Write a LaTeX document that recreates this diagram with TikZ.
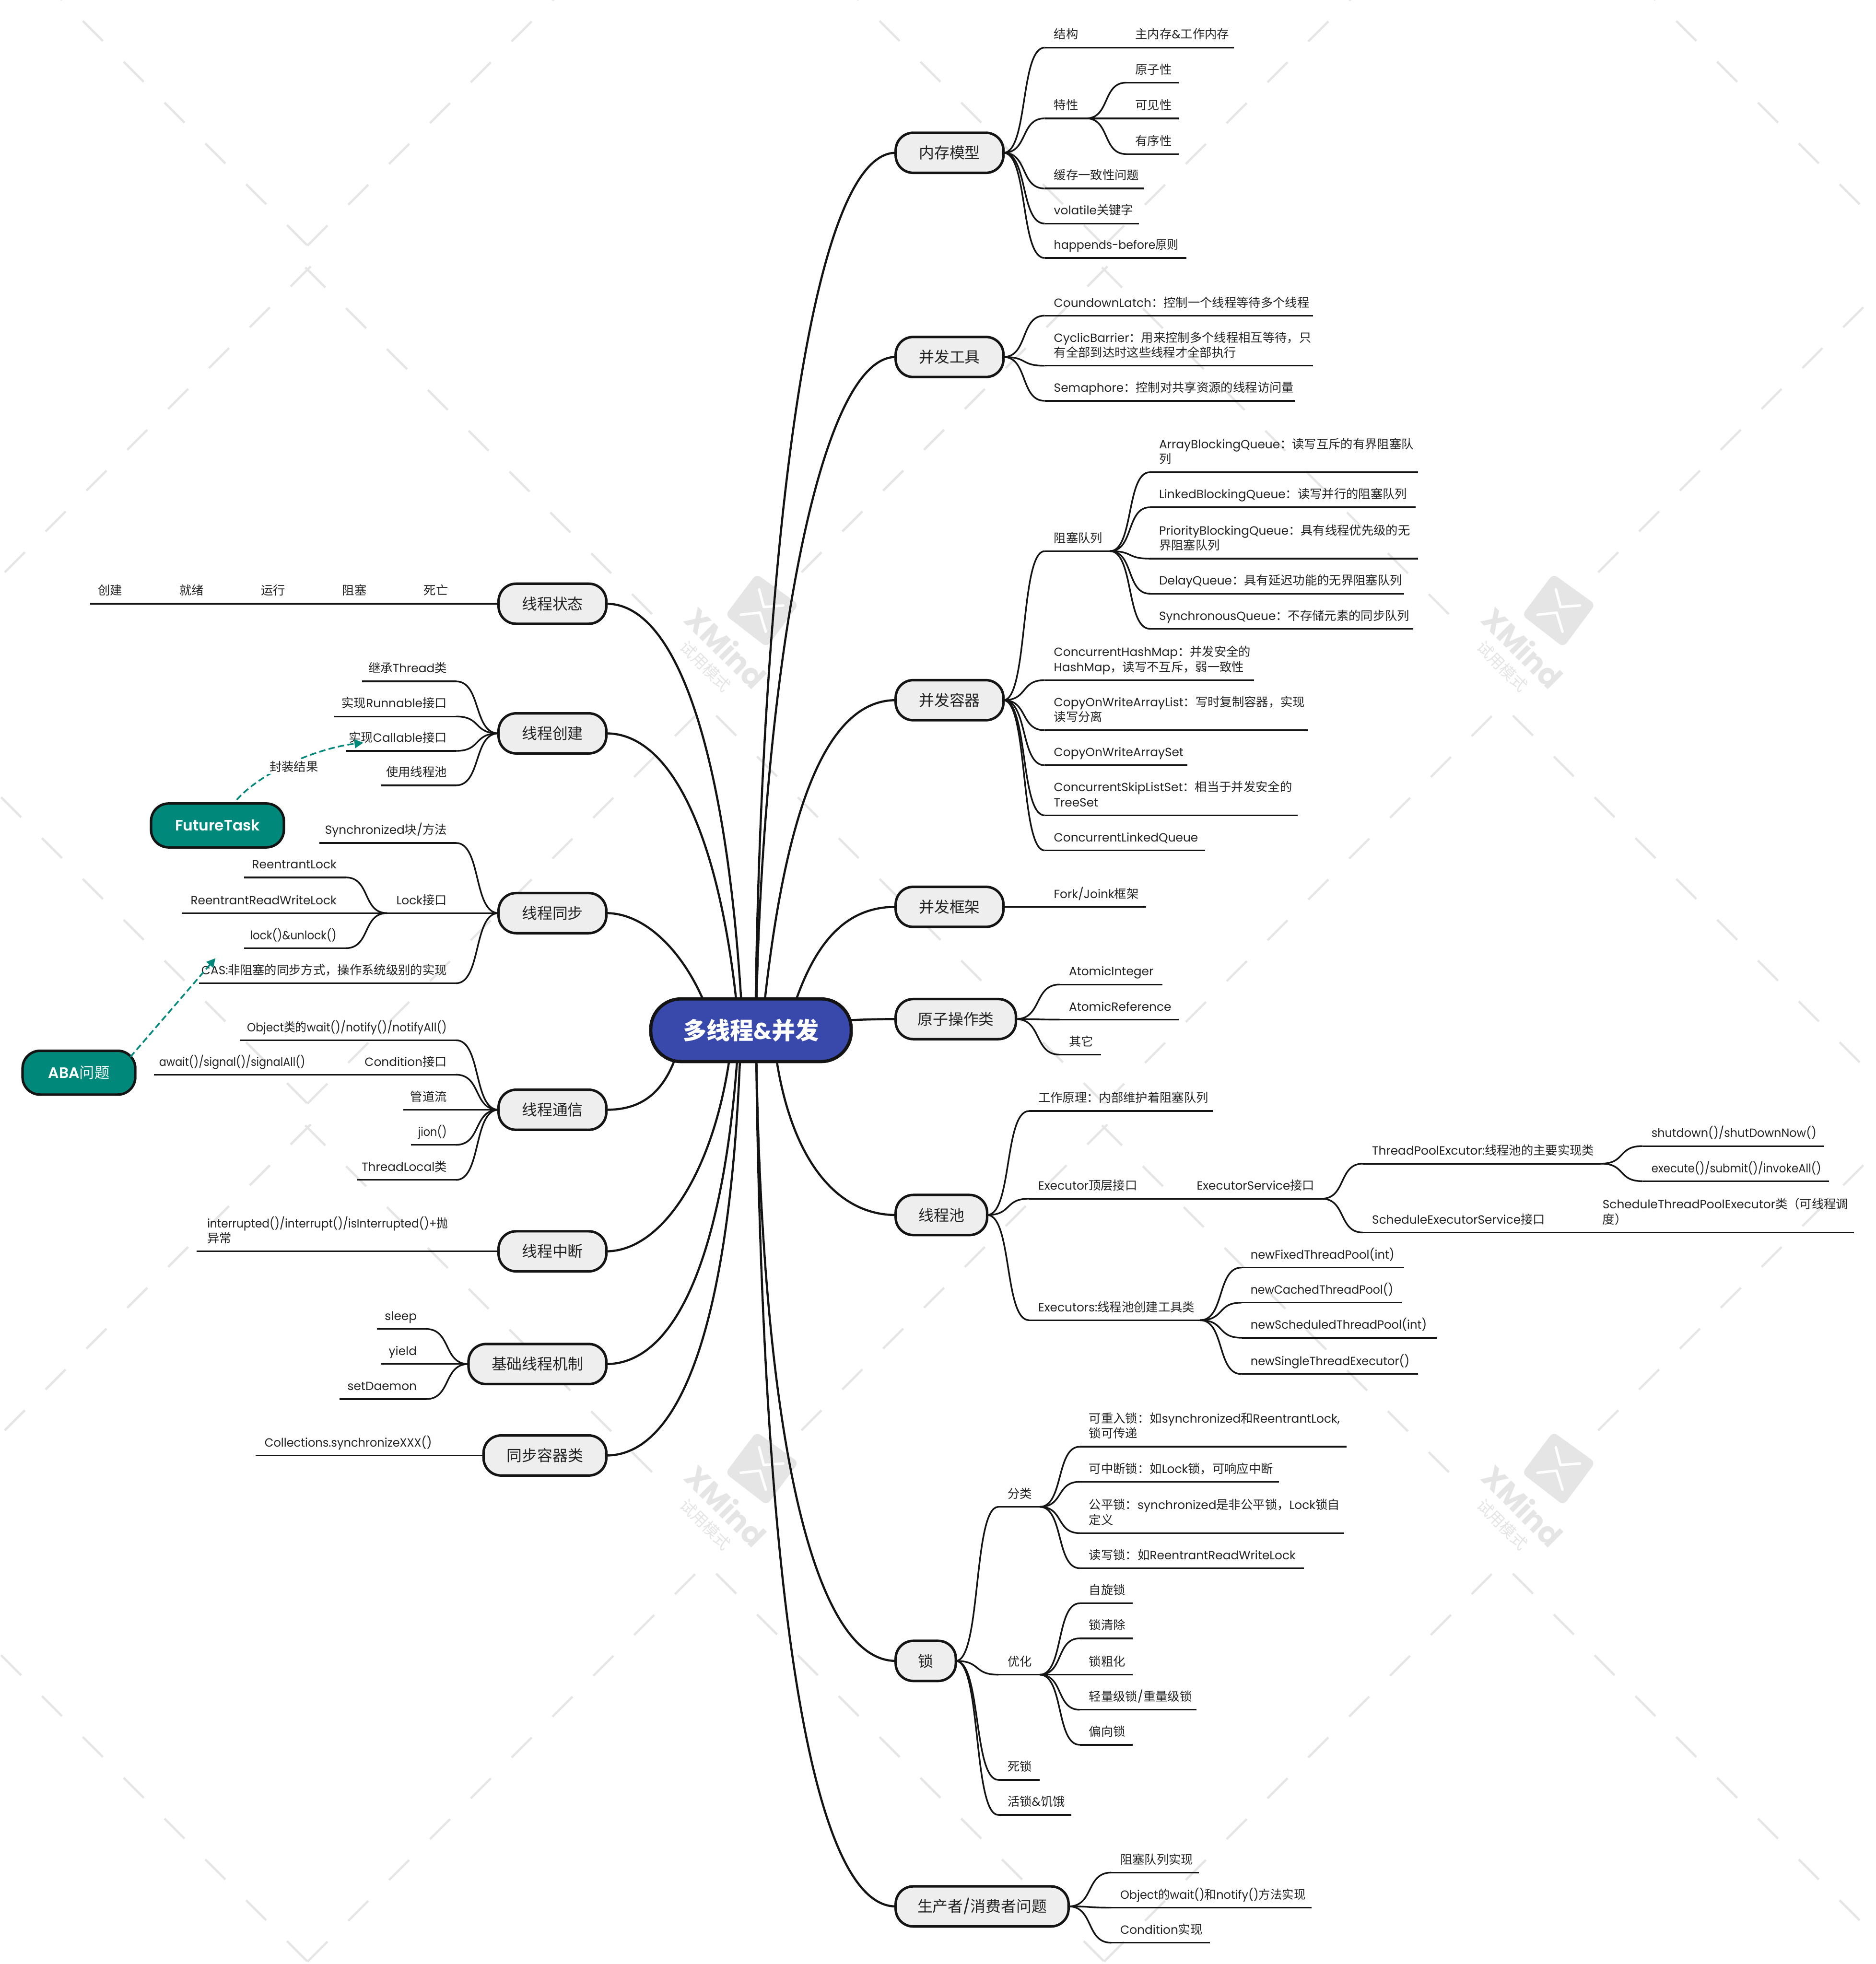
\documentclass[tikz,border=0pt]{standalone}
\usepackage{fontspec}
\usetikzlibrary{calc,arrows.meta}
\setmainfont{Poppins}[Scale=0.98]
\newfontfamily\cjkf{Noto Sans CJK SC}
\newfontfamily\pmed{Poppins SemiBold}
\let\latinf\rmfamily
\newXeTeXintercharclass\cjkcl
\makeatletter
\count@="4E00 \loop \XeTeXcharclass\count@=\cjkcl \ifnum\count@<"9FFF \advance\count@ 1 \repeat
\count@="FF00 \loop \XeTeXcharclass\count@=\cjkcl \ifnum\count@<"FFEF \advance\count@ 1 \repeat
\count@="3000 \loop \XeTeXcharclass\count@=\cjkcl \ifnum\count@<"303F \advance\count@ 1 \repeat
\makeatother
\XeTeXinterchartokenstate=1
\XeTeXinterchartoks 0 \cjkcl = {\cjkf}
\XeTeXinterchartoks \cjkcl 0 = {\latinf}
\XeTeXinterchartoks 4095 \cjkcl = {\cjkf}
\XeTeXinterchartoks \cjkcl 4095 = {\latinf}
\XeTeXinterchartoks 4095 0 = {\latinf}
\definecolor{ink}{HTML}{141414}
\definecolor{txt}{HTML}{222222}
\definecolor{rootblue}{HTML}{3949AB}
\definecolor{teal0}{HTML}{00897B}
\definecolor{topicgray}{HTML}{EEEEEE}
\definecolor{wm}{HTML}{E5E5E5}
\pgfdeclarelayer{wmlayer}
\pgfdeclarelayer{lines}
\pgfsetlayers{wmlayer,lines,main}
\tikzset{
 topic/.style={draw=ink,fill=topicgray,line width=2pt,rectangle,rounded corners=14pt,minimum height=32pt,inner sep=0pt,outer sep=0pt,text=txt,font=\fontsize{12.2}{15}\selectfont},
 rootnode/.style={draw=ink,fill=rootblue,line width=2.6pt,rectangle,rounded corners=24pt,minimum width=160pt,minimum height=50pt,inner sep=0pt,outer sep=0pt,text=white,font=\fontsize{18.8}{22}\selectfont\bfseries},
 floatnode/.style={draw=ink,fill=teal0,line width=2pt,rectangle,rounded corners=14pt,minimum height=35pt,inner sep=0pt,outer sep=0pt,text=white,font=\fontsize{12}{15}\selectfont\let\latinf\pmed\pmed},
 leaftext/.style={inner xsep=7.3pt,inner ysep=4pt,outer sep=0pt,text depth=3pt,align=left,text=txt,font=\fontsize{9.7}{12}\selectfont},
 ln/.style={draw=ink,line width=1.3pt},
 mainln/.style={draw=ink,line width=1.7pt},
 relln/.style={draw=teal0,line width=1.3pt,dash pattern=on 5pt off 2.7pt,-{Triangle[length=7pt,width=7pt,fill=teal0]}},
 wmln/.style={draw=wm,line width=1.7pt},
}
\newcommand\sx[2]{\scalebox{#1}[1]{#2}}
\newcommand\lR[5]{\coordinate (#1-a) at (#2,#4);\coordinate (#1-b) at (#3,#4);\node[leaftext,anchor=south west] (#1) at (#1-a) {#5};\begin{pgfonlayer}{lines}\draw[ln] (#1-a) -- (#1-b);\end{pgfonlayer}}
\newcommand\lL[5]{\coordinate (#1-a) at (#2,#4);\coordinate (#1-b) at (#3,#4);\node[leaftext,anchor=south east] (#1) at (#1-b) {#5};\begin{pgfonlayer}{lines}\draw[ln] (#1-a) -- (#1-b);\end{pgfonlayer}}
\newcommand\cn[2]{\begin{pgfonlayer}{lines}\draw[ln] let \p1=(#1),\p2=(#2),\n1={0.6*(\x2-\x1)},\n2={-0.6*(\x2-\x1)} in (#1) .. controls +(\n1,0) and +(\n2,0) .. (#2);\end{pgfonlayer}}
\newcommand\mc[4]{\begin{pgfonlayer}{lines}\draw[mainln] ([xshift=#2pt]root.center) .. controls (#3) and (#4) .. (#1);\end{pgfonlayer}}
\newcommand\wmlogo[2]{%
 \begin{scope}[shift={(#1,#2)}]
  \fill[wm,rounded corners=4pt] (-4.4,-29.3) -- (29.3,-5) -- (3.9,29.2) -- (-29.2,3.6) -- cycle;
  \draw[white,line width=2pt,line cap=round,line join=round] (-2.2,-17) -- (1.5,-2.9) -- (17,-4.1);
  \draw[white,line width=2pt,line cap=round,line join=round] (-16.9,3.3) -- (-1.6,1.6) -- (3.1,16.8);
  \node[text=wm,rotate=-45,inner sep=0pt,font=\fontsize{24.5}{27}\selectfont\bfseries] (wmx#1#2) at (-28.5,29.5) {XMind};
  \node[text=wm,rotate=-45,inner sep=0pt,font=\fontsize{12.6}{15}\selectfont] (wmt#1#2) at (-45,44.5) {试用模式};
 \end{scope}}
\begin{document}
\begin{tikzpicture}[x=1pt,y=-1pt]
\useasboundingbox (0,0) rectangle (1497.5,1568);
\begin{pgfonlayer}{wmlayer}
\fill[white] (0,0) rectangle (1497.5,1568);
\begin{scope}
\clip (0,0) rectangle (1497.5,1568);
\foreach \m in {-2,-1,0,1}{\foreach \n in {-1,0,1}{
 \foreach \i in {-1,...,8}{\draw[wmln] ({1240.3+32.6*\i+636*\m},{603.9+32.6*\i+685*\n}) -- ++(16,16);}
 \foreach \i in {0,...,9}{\draw[wmln] ({1190.8-32.6*\i+636*\m},{571.7+32.6*\i+685*\n}) -- ++(-16,16);}
 \foreach \i in {0,...,7}{\draw[wmln] ({1291.8+32.6*\i+636*\m},{440.9-32.6*\i+685*\n}) -- ++(-16,16);}
 \foreach \i in {0,...,8}{\draw[wmln] ({1140.5-32.6*\i+636*\m},{474.3-32.6*\i+685*\n}) -- ++(16,16);}
}}
\wmlogo{608.2}{487.5}
\wmlogo{1244.2}{487.5}
\wmlogo{608.2}{1172.5}
\wmlogo{1244.2}{1172.5}
\end{scope}
\end{pgfonlayer}

\node[rootnode] (root) at (599.5,822.5) {多线程\&并发};
% right topics
\node[topic,minimum width=86pt] (mem) at (758,122) {内存模型};
\node[topic,minimum width=86pt] (tool) at (758,285) {并发工具};
\node[topic,minimum width=86pt] (cont) at (758,559) {并发容器};
\node[topic,minimum width=86pt] (fw) at (758,724) {并发框架};
\node[topic,minimum width=96pt] (atom) at (763,813.6) {原子操作类};
\node[topic,minimum width=73pt] (pool) at (751.5,970) {线程池};
\node[topic,minimum width=48pt] (lock) at (739,1326) {锁};
\node[topic,minimum width=138pt] (prod) at (784,1522) {生产者/消费者问题};
% left topics
\node[topic,minimum width=86pt] (st) at (441,482) {线程状态};
\node[topic,minimum width=86pt] (cr) at (441,585.5) {线程创建};
\node[topic,minimum width=86pt] (sy) at (441,729) {线程同步};
\node[topic,minimum width=86pt] (co) at (441,886) {线程通信};
\node[topic,minimum width=86pt] (it) at (441,999) {线程中断};
\node[topic,minimum width=110pt] (ba) at (429,1089) {基础线程机制};
\node[topic,minimum width=98pt] (sc) at (435,1162) {同步容器类};
\node[floatnode,minimum width=106pt] (ft) at (173.6,659) {FutureTask};
\node[floatnode,minimum width=90pt] (aba) at (63,856.4) {ABA问题};

% root connectors
\mc{mem.west}{3.5}{606,500}{640,122}
\mc{tool.west}{4}{607,560}{650,285}
\mc{cont.west}{8.5}{622,680}{650,559}
\mc{fw.west}{28.5}{645,760}{670,724}
\mc{atom.west}{0}{640,816}{680,813.6}
\mc{pool.west}{17.5}{626,920}{665,970}
\mc{lock.west}{4}{607,1150}{650,1326}
\mc{prod.west}{4}{607,1220}{640,1522}
\mc{st.east}{-6.5}{583,620}{545,482}
\mc{cr.east}{-9.5}{578,680}{540,585.5}
\mc{sy.east}{-29.5}{555,770}{520,729}
\mc{co.east}{-54.5}{535,875}{510,886}
\mc{it.east}{-14.5}{575,930}{530,999}
\mc{ba.east}{-9.5}{580,1000}{540,1089}
\mc{sc.east}{-8}{585,1050}{545,1162}

% 内存模型
\lR{m1}{834}{867}{38}{结构}\cn{mem.east}{m1-a}
\lR{m11}{899}{985}{38}{主内存\&工作内存}\cn{m1-b}{m11-a}
\lR{m2}{834}{867}{94.5}{特性}\cn{mem.east}{m2-a}
\lR{m21}{899}{941}{66}{原子性}\cn{m2-b}{m21-a}
\lR{m22}{899}{941}{94.5}{可见性}\cn{m2-b}{m22-a}
\lR{m23}{899}{941}{123}{有序性}\cn{m2-b}{m23-a}
\lR{m3}{834}{913}{150.5}{缓存一致性问题}\cn{mem.east}{m3-a}
\lR{m4}{834}{909}{178.5}{volatile关键字}\cn{mem.east}{m4-a}
\lR{m5}{834}{947}{206}{\sx{.955}{happends-before原则}}\cn{mem.east}{m5-a}
% 并发工具
\lR{t1}{834}{1048}{252}{CoundownLatch：控制一个线程等待多个线程}\cn{tool.east}{t1-a}
\lR{t2}{834}{1048}{292}{CyclicBarrier：用来控制多个线程相互等待，只\\有全部到达时这些线程才全部执行}\cn{tool.east}{t2-a}
\lR{t3}{834}{1034}{320}{Semaphore：控制对共享资源的线程访问量}\cn{tool.east}{t3-a}
% 并发容器
\lR{c1}{834}{886}{440}{阻塞队列}\cn{cont.east}{c1-a}
\lR{c11}{918}{1132}{377}{ArrayBlockingQueue：读写互斥的有界阻塞队\\列}\cn{c1-b}{c11-a}
\lR{c12}{918}{1130}{405}{LinkedBlockingQueue：读写并行的阻塞队列}\cn{c1-b}{c12-a}
\lR{c13}{918}{1132}{446}{PriorityBlockingQueue：具有线程优先级的无\\界阻塞队列}\cn{c1-b}{c13-a}
\lR{c14}{918}{1121}{474}{DelayQueue：具有延迟功能的无界阻塞队列}\cn{c1-b}{c14-a}
\lR{c15}{918}{1128}{502}{SynchronousQueue：不存储元素的同步队列}\cn{c1-b}{c15-a}
\lR{c2}{834}{1001}{543}{ConcurrentHashMap：并发安全的\\HashMap，读写不互斥，弱一致性}\cn{cont.east}{c2-a}
\lR{c3}{834}{1044}{583}{CopyOnWriteArrayList：写时复制容器，实现\\读写分离}\cn{cont.east}{c3-a}
\lR{c4}{834}{948}{611}{CopyOnWriteArraySet}\cn{cont.east}{c4-a}
\lR{c5}{834}{1036}{651}{ConcurrentSkipListSet：相当于并发安全的\\TreeSet}\cn{cont.east}{c5-a}
\lR{c6}{834}{962}{679}{ConcurrentLinkedQueue}\cn{cont.east}{c6-a}
% 并发框架
\lR{f1}{834}{915}{724}{Fork/Joink框架}\cn{fw.east}{f1-a}
% 原子操作类
\lR{a1}{846}{928}{786}{AtomicInteger}\cn{atom.east}{a1-a}
\lR{a2}{846}{941}{814}{AtomicReference}\cn{atom.east}{a2-a}
\lR{a3}{846}{879}{842}{其它}\cn{atom.east}{a3-a}
% 线程池
\lR{p1}{821.5}{968}{887}{工作原理：内部维护着阻塞队列}\cn{pool.east}{p1-a}
\lR{p2}{821.5}{915}{957}{Executor顶层接口}\cn{pool.east}{p2-a}
\lR{p21}{948}{1055}{957}{ExecutorService接口}\cn{p2-b}{p21-a}
\lR{p211}{1088}{1278}{929}{ThreadPoolExcutor:线程池的主要实现类}\cn{p21-b}{p211-a}
\lR{p2111}{1311}{1456}{915}{\sx{.965}{shutdown()/shutDownNow()}}\cn{p211-b}{p2111-a}
\lR{p2112}{1311}{1460}{943}{\sx{.92}{execute()/submit()/invokeAll()}}\cn{p211-b}{p2112-a}
\lR{p212}{1088}{1239}{984}{ScheduleExecutorService接口}\cn{p21-b}{p212-a}
\lR{p2121}{1272}{1480}{984}{ScheduleThreadPoolExecutor类（可线程调\\度）}\cn{p212-b}{p2121-a}
\lR{p3}{821.5}{958}{1054}{Executors:线程池创建工具类}\cn{pool.east}{p3-a}
\lR{p31}{991}{1121}{1012}{\sx{.975}{newFixedThreadPool(int)}}\cn{p3-b}{p31-a}
\lR{p32}{991}{1119}{1040}{\sx{.95}{newCachedThreadPool()}}\cn{p3-b}{p32-a}
\lR{p33}{991}{1147}{1068}{\sx{.975}{newScheduledThreadPool(int)}}\cn{p3-b}{p33-a}
\lR{p34}{991}{1132}{1097}{\sx{.97}{newSingleThreadExecutor()}}\cn{p3-b}{p34-a}
% 锁
\lR{k1}{797}{830}{1203}{分类}\cn{lock.east}{k1-a}
\lR{k11}{862}{1075}{1155}{可重入锁：如synchronized和ReentrantLock,\\锁可传递}\cn{k1-b}{k11-a}
\lR{k12}{862}{1021}{1183}{可中断锁：如Lock锁，可响应中断}\cn{k1-b}{k12-a}
\lR{k13}{862}{1073}{1224}{公平锁：synchronized是非公平锁，Lock锁自\\定义}\cn{k1-b}{k13-a}
\lR{k14}{862}{1041}{1252}{读写锁：如ReentrantReadWriteLock}\cn{k1-b}{k14-a}
\lR{k2}{797}{830}{1337}{优化}\cn{lock.east}{k2-a}
\lR{k21}{862}{904}{1280}{自旋锁}\cn{k2-b}{k21-a}
\lR{k22}{862}{904}{1308}{锁清除}\cn{k2-b}{k22-a}
\lR{k23}{862}{904}{1337}{锁粗化}\cn{k2-b}{k23-a}
\lR{k24}{862}{955}{1365}{轻量级锁/重量级锁}\cn{k2-b}{k24-a}
\lR{k25}{862}{904}{1393}{偏向锁}\cn{k2-b}{k25-a}
\lR{k3}{797}{830}{1421}{死锁}\cn{lock.east}{k3-a}
\lR{k4}{797}{855}{1449}{活锁\&饥饿}\cn{lock.east}{k4-a}
% 生产者
\lR{q1}{887}{957}{1495}{阻塞队列实现}\cn{prod.east}{q1-a}
\lR{q2}{887}{1047}{1523}{\sx{.965}{Object的wait()和notify()方法实现}}\cn{prod.east}{q2-a}
\lR{q3}{887}{966}{1551}{Condition实现}\cn{prod.east}{q3-a}
% 线程状态
\lL{s1}{332}{365}{482}{死亡}\cn{st.west}{s1-b}
\lL{s2}{267}{300}{482}{阻塞}\cn{s1-a}{s2-b}
\lL{s3}{202}{235}{482}{运行}\cn{s2-a}{s3-b}
\lL{s4}{136}{170}{482}{就绪}\cn{s3-a}{s4-b}
\lL{s5}{72}{105}{482}{创建}\cn{s4-a}{s5-b}
% 线程创建
\lL{r1}{289}{364}{544}{继承Thread类}\cn{cr.west}{r1-b}
\lL{r2}{267}{364}{572}{实现Runnable接口}\cn{cr.west}{r2-b}
\lL{r3}{276}{364}{599.5}{实现Callable接口}\cn{cr.west}{r3-b}
\lL{r4}{304}{364}{627}{使用线程池}\cn{cr.west}{r4-b}
% 线程同步
\lL{y1}{255}{364}{673}{Synchronized块/方法}\cn{sy.west}{y1-b}
\lL{y2}{309}{364}{729}{Lock接口}\cn{sy.west}{y2-b}
\lL{y21}{195}{276}{700.5}{ReentrantLock}\cn{y2-a}{y21-b}
\lL{y22}{145}{276}{729}{ReentrantReadWriteLock}\cn{y2-a}{y22-b}
\lL{y23}{195}{276}{757}{\sx{.925}{lock()\&unlock()}}\cn{y2-a}{y23-b}
\lL{y3}{159}{364}{785}{CAS:非阻塞的同步方式，操作系统级别的实现}\cn{sy.west}{y3-b}
% 线程通信
\lL{o1}{191.5}{364}{830.5}{\sx{.94}{Object类的wait()/notify()/notifyAll()}}\cn{co.west}{o1-b}
\lL{o2}{285}{364}{858}{Condition接口}\cn{co.west}{o2-b}
\lL{o21}{123}{251}{858}{\sx{.90}{await()/signal()/signalAll()}}\cn{o2-a}{o21-b}
\lL{o3}{322}{364}{886}{管道流}\cn{co.west}{o3-b}
\lL{o4}{328}{364}{914}{\sx{.90}{jion()}}\cn{co.west}{o4-b}
\lL{o5}{285}{364}{942}{ThreadLocal类}\cn{co.west}{o5-b}
% 线程中断
\lL{i1}{157}{365}{999}{\sx{.935}{interrupted()/interrupt()/isInterrupted()+抛}\\异常}\cn{it.west}{i1-b}
% 基础线程机制
\lL{b1}{301}{340}{1061}{sleep}\cn{ba.west}{b1-b}
\lL{b2}{304}{340}{1089}{yield}\cn{ba.west}{b2-b}
\lL{b3}{271}{340}{1117}{setDaemon}\cn{ba.west}{b3-b}
% 同步容器类
\lL{v1}{204}{352}{1162}{\sx{.97}{Collections.synchronizeXXX()}}\cn{sc.west}{v1-b}

% relations
\coordinate (relA) at (290,593);
\coordinate (relB) at (172,765);
\draw[relln] ([xshift=15.4pt,yshift=3pt]ft.north) .. controls (210,615) and (255,597) .. (relA);
\draw[relln] ([xshift=-4pt,yshift=-5pt]aba.north east) -- (relB);
\node[fill=white,inner sep=1.5pt,text=txt,font=\fontsize{9.7}{12}\selectfont] (rl) at (234.6,612) {封装结果};
\end{tikzpicture}
\end{document}
